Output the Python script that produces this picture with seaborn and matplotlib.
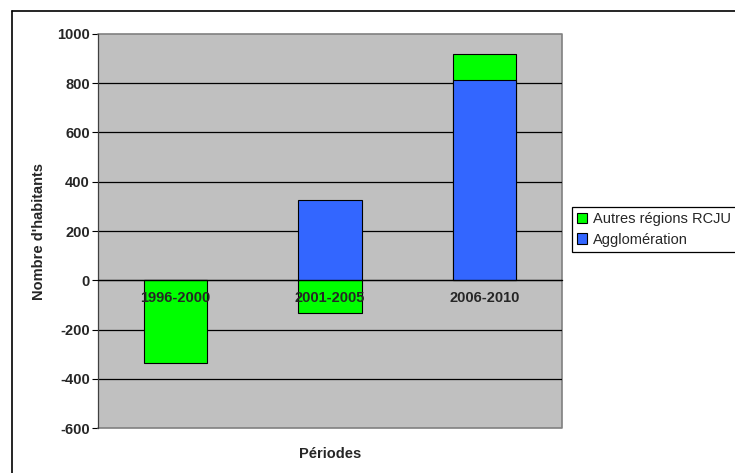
import matplotlib
matplotlib.use("Agg")
import matplotlib.pyplot as plt
from matplotlib.lines import Line2D
from matplotlib.patches import Patch
import seaborn as sns
import pandas as pd
import numpy as np

periods = ["1996-2000", "2001-2005", "2006-2010"]
autres = [-336, -134, 105]
agglo = [0, 324, 814]
series_names = ["Autres régions RCJU", "Agglomération"]
yticks = [-600, -400, -200, 0, 200, 400, 600, 800, 1000]

sns.set_style("white")
plt.rcParams["font.family"] = ["Liberation Sans", "DejaVu Sans"]

GREEN = "#00FF00"
BLUE = "#3366FF"
GRAY = "#C0C0C0"

# stacked tops: green stacks on top of blue where positive
green_top = [a + b if a > 0 else a for a, b in zip(autres, agglo)]
df_green = pd.DataFrame({"period": periods, "value": green_top})
df_blue = pd.DataFrame({"period": periods, "value": agglo})

fig = plt.figure(figsize=(7.35, 4.73), dpi=100)
ax = fig.add_axes([98/735, 1-428/473, (562-98)/735, (428-34)/473])
ax.set_facecolor(GRAY)

sns.barplot(data=df_green, x="period", y="value", color=GREEN, width=0.41,
            edgecolor="black", linewidth=0.8, saturation=1, ax=ax, zorder=3)
sns.barplot(data=df_blue, x="period", y="value", color=BLUE, width=0.41,
            edgecolor="black", linewidth=0.8, saturation=1, ax=ax, zorder=4)

ax.set_xlim(-0.5, 2.5)
ax.set_ylim(-600, 1000)
ax.set_yticks(yticks)
ax.set_yticklabels([str(v) for v in yticks], fontsize=10.5, fontweight="bold")
for y in yticks:
    if y not in (-600, 1000):
        ax.axhline(y, color="black", linewidth=0.9, zorder=2)

# category axis at zero
ax.spines["bottom"].set_position(("data", 0))
ax.spines["bottom"].set_color("black")
ax.spines["bottom"].set_linewidth(0.9)
ax.spines["bottom"].set_zorder(5)
ax.set_xticks([0, 1, 2])
ax.set_xticklabels(periods, fontsize=10.5, fontweight="bold")
ax.set_xticks([0.5, 1.5], minor=True)
ax.tick_params(axis="x", which="major", length=0, pad=8)
ax.tick_params(axis="x", which="minor", length=4, width=0.8, color="black", direction="out")
ax.xaxis.set_zorder(10)
ax.tick_params(axis="y", length=4, width=0.8, color="black", direction="out", left=True, pad=2)

ax.spines["left"].set_color("#404040")
ax.spines["left"].set_linewidth(0.9)
ax.spines["top"].set_visible(False)
ax.spines["right"].set_visible(False)
# plot area border (gray) on top/right/bottom
ax.plot([0, 1, 1, 0], [1, 1, 0, 0], transform=ax.transAxes, color="#808080",
        linewidth=1.2, clip_on=False, zorder=1)

ax.set_xlabel("Périodes", fontsize=10.5, fontweight="bold", labelpad=0)
ax.xaxis.set_label_coords(0.5, -0.048)
ax.set_ylabel("Nombre d'habitants", fontsize=10.5, fontweight="bold")
ax.yaxis.set_label_coords(-0.112, 0.5)

handles = [Patch(facecolor=GREEN, edgecolor="black", linewidth=0.8),
           Patch(facecolor=BLUE, edgecolor="black", linewidth=0.8)]
leg = fig.legend(handles, series_names, loc="upper left",
                 bbox_to_anchor=(572/735, 1-207/473), borderaxespad=0,
                 fancybox=False, framealpha=1, edgecolor="black",
                 fontsize=10.5, handlelength=0.7, handleheight=0.7,
                 handletextpad=0.4, labelspacing=0.45, borderpad=0.35)
leg.get_frame().set_linewidth(0.9)

# chart area border
fig.add_artist(Line2D([12/735, 12/735], [0, 1-11/473], color="black", linewidth=1.2))
fig.add_artist(Line2D([12/735, 1], [1-11/473, 1-11/473], color="black", linewidth=1.2))

fig.savefig("out.png", dpi=100)
